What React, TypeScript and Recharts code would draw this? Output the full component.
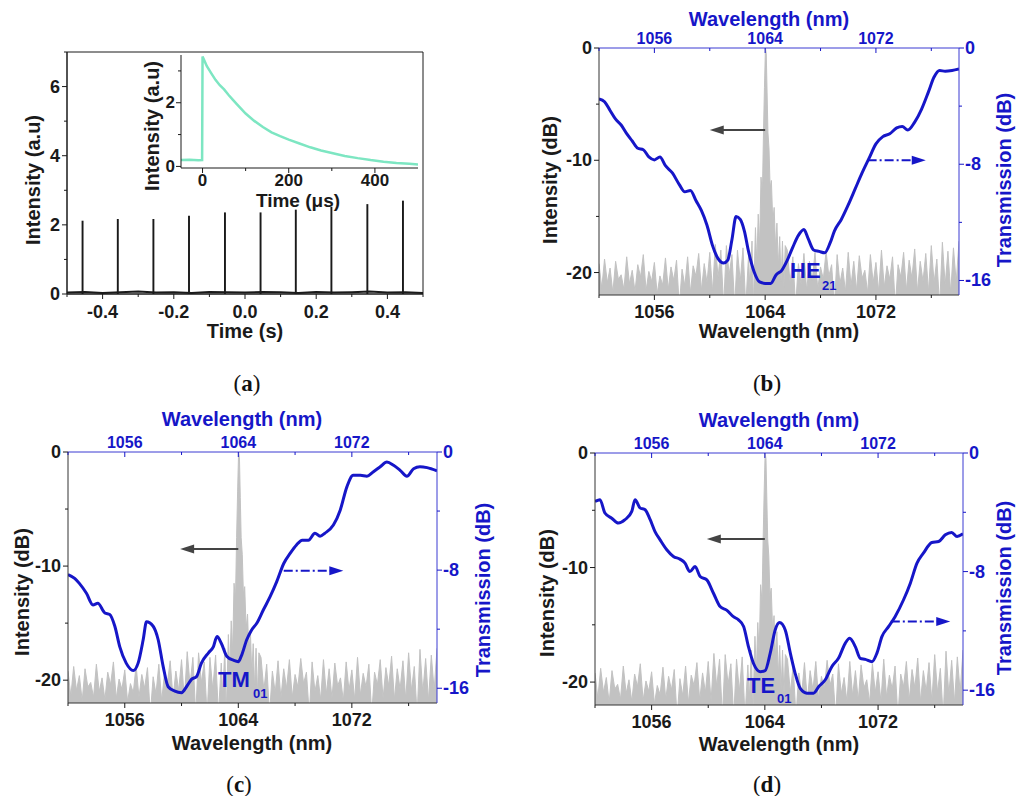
import React from 'react'
import { LineChart, ComposedChart, Line, Area, Bar, XAxis, YAxis, ReferenceLine } from 'recharts'

const W = 1016
const H = 796
const INK = '#1a1a1a'
const BLUE = '#1616c8'
const BLUE_AXIS = '#3b3bd2'
const GRAY = '#c2c2c2'
const MINT = '#7de6c2'
const SANS = '"Liberation Sans", Arial, sans-serif'
const SERIF = '"Liberation Serif", "Times New Roman", serif'

// (a) pulse train
const pulseTimes = [-0.456, -0.357, -0.257, -0.157, -0.056, 0.044, 0.143, 0.243, 0.344, 0.444]
const pulseHeights = [2.12, 2.17, 2.17, 2.26, 2.36, 2.36, 2.44, 2.52, 2.6, 2.7]
// baseline level every 0.05 s from -0.5 s
const baselineLevel = [0.04, 0.06, 0.03, 0.05, 0.07, 0.04, 0.05, 0.03, 0.06, 0.05, 0.04, 0.06, 0.05, 0.03, 0.06, 0.04, 0.05, 0.07, 0.04, 0.05, 0.03]

// (a) inset: single pulse decay
const decayTime = [-50, -30, -10, -1, 0, 5, 10, 20, 30, 40, 50, 60, 70, 80, 100, 120, 140, 160, 180, 200, 225, 250, 275, 300, 330, 360, 390, 420, 450, 480, 500]
const decayIntensity = [0.2, 0.21, 0.19, 0.2, 3.45, 3.3, 3.15, 2.93, 2.72, 2.55, 2.42, 2.25, 2.1, 1.95, 1.66, 1.43, 1.24, 1.07, 0.95, 0.84, 0.72, 0.6, 0.5, 0.42, 0.33, 0.26, 0.2, 0.15, 0.11, 0.08, 0.06]

// laser spectrum (dB), shared by (b)-(d)
// noise floor every 0.2 nm from 1052.0 to 1062.8
const noiseLeft = [
  -19.2, -21.4, -18.8, -20.9, -19.6, -21.8, -19.0, -20.6, -20.2, -21.5,
  -18.6, -21.0, -19.8, -21.7, -19.3, -20.4, -18.4, -21.6, -19.9, -20.8,
  -19.1, -21.9, -20.3, -21.1, -18.7, -21.5, -19.5, -20.7, -18.9, -23.0,
  -19.7, -21.2, -18.6, -21.8, -19.4, -20.3, -18.3, -21.6, -19.2, -20.9,
  -18.2, -21.7, -17.5, -20.4, -18.0, -23.0, -17.6, -20.2, -18.4, -23.0,
  -18.0, -20.8, -17.8, -23.0, -18.5,
]
const peakWl = [1062.9, 1063.05, 1063.15, 1063.3, 1063.4, 1063.5, 1063.6, 1063.7, 1063.8, 1063.88, 1063.95, 1064.02, 1064.08, 1064.14, 1064.2, 1064.28, 1064.36, 1064.45, 1064.55, 1064.65, 1064.75, 1064.85, 1064.95, 1065.05, 1065.15, 1065.25, 1065.35, 1065.45]
const peakDb = [-21.5, -17.2, -23.0, -16.0, -19.2, -14.8, -17.5, -11.5, -13.0, -7.5, -3.5, 0, -0.5, -4.0, -7.5, -9.0, -12.5, -11.8, -15.5, -14.2, -17.8, -15.6, -19.5, -16.8, -20.8, -17.2, -21.3, -17.6]
// noise floor every 0.2 nm from 1065.6 to 1078.0
const noiseRight = [
  -18.0, -20.9, -18.6, -23.0, -19.2, -21.1, -18.3, -21.6, -19.0, -20.7,
  -18.2, -21.5, -19.5, -20.6, -18.1, -20.3, -19.3, -23.0, -18.4, -21.0,
  -19.6, -21.7, -18.2, -21.2, -19.0, -21.6, -18.5, -20.5, -19.8, -21.8,
  -18.4, -20.9, -19.1, -21.7, -18.0, -21.3, -19.4, -20.6, -18.6, -23.0,
  -19.3, -20.4, -18.2, -21.6, -18.9, -20.5, -17.9, -21.7, -19.0, -20.8,
  -18.3, -21.7, -17.6, -20.9, -18.8, -23.0, -17.3, -21.1, -18.1, -21.8,
  -17.8, -20.9, -17.2,
]

// transmission (dB) [wavelength nm, dB]
const transHE21: [number, number][] = [
  [1052.0, -3.5], [1052.4, -3.7], [1052.8, -4.3], [1053.2, -4.9], [1053.6, -5.3], [1054.0, -5.9], [1054.4, -6.4], [1054.8, -6.9],
  [1055.2, -7.0], [1055.6, -7.5], [1056.0, -7.7], [1056.4, -7.5], [1056.8, -8.1], [1057.3, -8.6], [1057.8, -9.4], [1058.2, -9.9],
  [1058.6, -9.8], [1059.0, -10.5], [1059.4, -11.2], [1059.8, -12.2], [1060.2, -13.6], [1060.6, -14.5], [1061.0, -14.8], [1061.3, -14.6],
  [1061.6, -13.2], [1061.9, -11.6], [1062.2, -11.8], [1062.5, -12.6], [1062.8, -14.0], [1063.2, -15.4], [1063.6, -16.1], [1064.0, -16.2],
  [1064.4, -16.2], [1064.8, -15.6], [1065.2, -15.3], [1065.6, -14.6], [1066.0, -13.7], [1066.4, -12.9], [1066.8, -12.5], [1067.1, -13.1],
  [1067.5, -13.9], [1067.9, -14.0], [1068.3, -14.1], [1068.7, -13.4], [1069.0, -12.6], [1069.5, -11.8], [1070.0, -10.8], [1070.5, -9.7],
  [1071.0, -8.6], [1071.5, -7.6], [1072.0, -6.6], [1072.5, -6.1], [1073.0, -5.9], [1073.5, -5.5], [1073.9, -5.4], [1074.3, -5.65],
  [1074.8, -5.1], [1075.3, -4.2], [1075.8, -3.0], [1076.2, -2.0], [1076.6, -1.55], [1077.0, -1.6], [1077.5, -1.55], [1078.0, -1.45],
]
const transTM01: [number, number][] = [
  [1052.0, -8.3], [1052.47, -8.56], [1052.8, -8.9], [1053.3, -9.57], [1053.76, -10.36], [1054.1, -10.25], [1054.6, -10.9], [1054.94, -11.0],
  [1055.3, -11.8], [1055.65, -13.2], [1056.1, -14.3], [1056.6, -14.8], [1056.94, -14.3], [1057.3, -12.7], [1057.53, -11.5], [1058.0, -11.8],
  [1058.35, -12.7], [1058.7, -14.5], [1059.06, -15.9], [1059.53, -16.2], [1060.0, -16.3], [1060.35, -15.9], [1060.7, -15.4], [1061.06, -15.2],
  [1061.4, -14.3], [1061.9, -13.6], [1062.24, -13.2], [1062.5, -12.5], [1062.8, -12.95], [1063.2, -13.85], [1063.65, -14.1], [1064.0, -14.2],
  [1064.2, -13.85], [1064.6, -12.7], [1064.94, -12.05], [1065.3, -11.6], [1065.76, -10.7], [1066.24, -9.8], [1066.7, -8.8], [1067.2, -7.55],
  [1067.65, -6.87], [1068.1, -6.3], [1068.5, -5.97], [1068.94, -5.97], [1069.4, -5.5], [1069.76, -5.7], [1070.1, -5.5], [1070.7, -4.95],
  [1071.18, -3.94], [1071.65, -2.36], [1072.1, -1.58], [1072.6, -1.58], [1073.06, -1.64], [1073.5, -1.35], [1074.0, -1.0], [1074.47, -0.68],
  [1074.94, -0.9], [1075.4, -1.24], [1075.88, -1.64], [1076.35, -1.13], [1076.8, -1.0], [1077.3, -1.06], [1078.0, -1.28],
]
const transTE01: [number, number][] = [
  [1052.0, -3.27], [1052.35, -3.15], [1052.7, -4.05], [1053.18, -4.4], [1053.65, -4.73], [1054.12, -4.5], [1054.6, -3.94], [1054.83, -3.15],
  [1055.18, -3.7], [1055.54, -3.83], [1055.9, -4.5], [1056.24, -5.3], [1056.6, -5.86], [1057.07, -6.53], [1057.54, -6.98], [1058.0, -7.16],
  [1058.36, -7.43], [1058.7, -8.0], [1059.07, -7.66], [1059.43, -8.33], [1059.9, -8.56], [1060.37, -9.46], [1060.84, -10.36], [1061.3, -10.6],
  [1061.78, -11.04], [1062.14, -11.26], [1062.5, -11.7], [1062.84, -13.06], [1063.2, -14.2], [1063.67, -14.75], [1064.02, -14.68], [1064.38, -13.5],
  [1064.73, -11.94], [1065.04, -11.44], [1065.44, -11.94], [1065.8, -13.5], [1066.14, -14.86], [1066.5, -15.88], [1066.97, -16.2], [1067.44, -16.2],
  [1067.8, -15.77], [1068.27, -15.3], [1068.74, -14.4], [1069.2, -13.85], [1069.68, -12.84], [1069.99, -12.5], [1070.39, -13.06], [1070.74, -13.85],
  [1071.1, -13.92], [1071.57, -14.08], [1071.92, -13.5], [1072.27, -12.39], [1072.75, -11.7], [1073.2, -11.04], [1073.8, -9.9], [1074.28, -8.78],
  [1074.75, -7.43], [1075.2, -6.76], [1075.8, -6.04], [1076.28, -5.97], [1076.75, -5.52], [1077.2, -5.36], [1077.58, -5.63], [1078.0, -5.45],
]

// arrows: [from nm, to nm, left-axis dB]
const grayArrowB = [1064.0, 1060.0, -7.3]
const blueArrowB = [1071.4, 1075.6, -10.0]
const grayArrowC = [1064.0, 1059.9, -8.5]
const blueArrowC = [1067.2, 1071.4, -10.4]
const grayArrowD = [1064.0, 1059.9, -7.5]
const blueArrowD = [1072.9, 1077.1, -14.7]

const pulseRows = pulseTimes.map((t, i) => ({ t, h: pulseHeights[i] }))
const baselineRows = baselineLevel.map((h, i) => ({ t: -0.5 + 0.05 * i, h }))
const decayRows = decayTime.map((t, i) => ({ t, v: decayIntensity[i] }))
const spectrumRows = [
  ...noiseLeft.map((db, i) => ({ wl: 1052 + 0.2 * i, db })),
  ...peakWl.map((wl, i) => ({ wl, db: peakDb[i] })),
  ...noiseRight.map((db, i) => ({ wl: 1065.6 + 0.2 * i, db })),
]
const toRows = (pts: [number, number][]) => pts.map(([wl, t]) => ({ wl, t }))

const wlTicks = [1052, 1056, 1060, 1064, 1068, 1072, 1076]
const wlLabels = [1056, 1064, 1072]

type Side = 'left' | 'right' | 'top' | 'bottom'
type TickOpts = { color?: string; size?: number; fmt?: (v: number) => string; gap?: number }

const makeTick = (side: Side, labels: number[], { color = INK, size = 18, fmt = String, gap }: TickOpts = {}) =>
  (props: any) => {
    const { x, y, payload } = props
    const v = payload.value as number
    const major = labels.some((l) => Math.abs(l - v) < 1e-6)
    const len = major ? 5 : 3
    let ln = [x, y, x, y + len]
    let tx = x
    let ty = y + (gap ?? 17)
    let anchor = 'middle'
    if (side === 'left') {
      ln = [x - len, y, x, y]
      tx = x - (gap ?? 7)
      ty = y
      anchor = 'end'
    } else if (side === 'right') {
      ln = [x, y, x + len, y]
      tx = x + (gap ?? 6)
      ty = y
      anchor = 'start'
    } else if (side === 'top') {
      ty = y - (gap ?? 10)
    }
    return (
      <g>
        <line x1={ln[0]} y1={ln[1]} x2={ln[2]} y2={ln[3]} stroke={color} strokeWidth={1} />
        {major && (
          <text x={tx} y={ty} textAnchor={anchor} dominantBaseline="central" fill={color}
            fontFamily={SANS} fontWeight="bold" fontSize={size}>
            {fmt(v)}
          </text>
        )}
      </g>
    )
  }

const arrowShape = (color: string, dash?: string) => (p: any) => {
  const { x1, y1, x2, y2 } = p
  const dir = Math.sign(x2 - x1)
  const L = 14
  return (
    <g>
      <line x1={x1} y1={y1} x2={x2 - dir * L * 0.7} y2={y2} stroke={color} strokeWidth={2} strokeDasharray={dash} />
      <polygon points={`${x2},${y2} ${x2 - dir * L},${y2 - 4.5} ${x2 - dir * L},${y2 + 4.5}`} fill={color} />
    </g>
  )
}

// axes take 1px; margins place the plot box at page pixels
const AX = 1
const margins = (x0: number, y0: number, x1: number, y1: number) =>
  ({ top: y0 - AX, left: x0 - AX, right: W - x1 - AX, bottom: H - y1 - AX })

const layer: React.CSSProperties = { position: 'absolute', left: 0, top: 0 }

function PulsePanel() {
  return (
    <div style={layer}>
      <ComposedChart width={W} height={H} data={pulseRows} margin={margins(67, 52, 423, 294)}>
        <XAxis xAxisId="b" type="number" dataKey="t" domain={[-0.5, 0.5]} allowDataOverflow
          ticks={[-0.5, -0.4, -0.3, -0.2, -0.1, 0, 0.1, 0.2, 0.3, 0.4, 0.5]} interval={0}
          height={AX} tickSize={0} tickMargin={0} tickLine={false} axisLine={{ stroke: INK, strokeWidth: 1.5 }}
          tick={makeTick('bottom', [-0.4, -0.2, 0, 0.2, 0.4], { fmt: (v) => v.toFixed(1), gap: 18 })} />
        <XAxis xAxisId="t" orientation="top" type="number" domain={[-0.5, 0.5]} allowDataOverflow
          height={AX} tick={false} tickLine={false} axisLine={{ stroke: INK }} />
        <YAxis yAxisId="l" type="number" domain={[0, 7]} allowDataOverflow ticks={[0, 1, 2, 3, 4, 5, 6, 7]} interval={0}
          width={AX} tickSize={0} tickMargin={0} tickLine={false} axisLine={{ stroke: INK, strokeWidth: 1.5 }}
          tick={makeTick('left', [0, 2, 4, 6])} />
        <YAxis yAxisId="r" orientation="right" type="number" domain={[0, 7]} allowDataOverflow
          width={AX} tick={false} tickLine={false} axisLine={{ stroke: INK }} />
        <Line xAxisId="b" yAxisId="l" data={baselineRows} dataKey="h" type="linear" stroke={INK}
          strokeWidth={2} dot={false} isAnimationActive={false} />
        <Bar xAxisId="b" yAxisId="l" dataKey="h" barSize={3} fill={INK} isAnimationActive={false} />
      </ComposedChart>
    </div>
  )
}

function InsetPanel() {
  return (
    <div style={layer}>
      <LineChart width={W} height={H} data={decayRows} margin={margins(181, 56, 417, 168)}>
        <XAxis xAxisId="b" type="number" dataKey="t" domain={[-50, 500]} allowDataOverflow
          ticks={[0, 100, 200, 300, 400]} interval={0}
          height={AX} tickSize={0} tickMargin={0} tickLine={false} axisLine={{ stroke: INK }}
          tick={makeTick('bottom', [0, 200, 400], { size: 17, gap: 12 })} />
        <YAxis yAxisId="l" type="number" domain={[-0.05, 3.5]} allowDataOverflow ticks={[0, 1, 2, 3]} interval={0}
          width={AX} tickSize={0} tickMargin={0} tickLine={false} axisLine={{ stroke: INK }}
          tick={makeTick('left', [0, 2], { size: 17, gap: 6 })} />
        <Line xAxisId="b" yAxisId="l" dataKey="v" type="linear" stroke={MINT}
          strokeWidth={2.5} dot={false} isAnimationActive={false} />
      </LineChart>
    </div>
  )
}

type SpectrumProps = {
  box: [number, number, number, number]
  trans: [number, number][]
  grayArrow: number[]
  blueArrow: number[]
}

function SpectrumPanel({ box, trans, grayArrow, blueArrow }: SpectrumProps) {
  return (
    <div style={layer}>
      <ComposedChart width={W} height={H} margin={margins(...box)}>
        <XAxis xAxisId="b" type="number" dataKey="wl" domain={[1052, 1078]} allowDataOverflow
          ticks={wlTicks} interval={0} height={AX} tickSize={0} tickMargin={0} tickLine={false}
          axisLine={{ stroke: '#333' }} tick={makeTick('bottom', wlLabels)} />
        <XAxis xAxisId="t" orientation="top" type="number" dataKey="wl" domain={[1052, 1078]} allowDataOverflow
          ticks={wlTicks} interval={0} height={AX} tickSize={0} tickMargin={0} tickLine={false}
          axisLine={{ stroke: BLUE_AXIS }} tick={makeTick('top', wlLabels, { color: BLUE, size: 16 })} />
        <YAxis yAxisId="l" type="number" domain={[-22, 0]} allowDataOverflow ticks={[-20, -15, -10, -5, 0]} interval={0}
          width={AX} tickSize={0} tickMargin={0} tickLine={false} axisLine={{ stroke: '#333' }}
          tick={makeTick('left', [-20, -10, 0])} />
        <YAxis yAxisId="r" orientation="right" type="number" domain={[-17, 0]} allowDataOverflow
          ticks={[-16, -12, -8, -4, 0]} interval={0} width={AX} tickSize={0} tickMargin={0} tickLine={false}
          axisLine={{ stroke: BLUE_AXIS }} tick={makeTick('right', [-16, -8, 0], { color: BLUE })} />
        <Area xAxisId="b" yAxisId="l" data={spectrumRows} dataKey="db" type="linear" baseValue={-22}
          stroke={GRAY} strokeWidth={1} fill={GRAY} fillOpacity={1} dot={false} isAnimationActive={false} />
        <Line xAxisId="b" yAxisId="r" data={toRows(trans)} dataKey="t" type="monotone" stroke={BLUE}
          strokeWidth={3} dot={false} isAnimationActive={false} />
        <ReferenceLine xAxisId="b" yAxisId="l" ifOverflow="visible"
          segment={[{ x: grayArrow[0], y: grayArrow[2] }, { x: grayArrow[1], y: grayArrow[2] }]}
          shape={arrowShape('#444')} />
        <ReferenceLine xAxisId="b" yAxisId="l" ifOverflow="visible"
          segment={[{ x: blueArrow[0], y: blueArrow[2] }, { x: blueArrow[1], y: blueArrow[2] }]}
          shape={arrowShape(BLUE, '9 3 2 3')} />
      </ComposedChart>
    </div>
  )
}

const Title = ({ x, y, text, rot = false, color = INK, size = 20 }: any) => (
  <text transform={`translate(${x},${y})${rot ? ' rotate(-90)' : ''}`} textAnchor="middle" dominantBaseline="central"
    fill={color} fontFamily={SANS} fontWeight="bold" fontSize={size}>
    {text}
  </text>
)

const Caption = ({ x, y, letter }: any) => (
  <text x={x} y={y} textAnchor="middle" dominantBaseline="central" fontFamily={SERIF} fontSize={23} fill="#111">
    (<tspan fontWeight="bold">{letter}</tspan>)
  </text>
)

const Mode = ({ x, y, main, sub, sx, sy }: any) => (
  <g fill={BLUE} fontFamily={SANS} fontWeight="bold">
    <text x={x} y={y} fontSize={22}>{main}</text>
    <text x={sx} y={sy} fontSize={13}>{sub}</text>
  </g>
)

export default function App() {
  return (
    <div style={{ position: 'absolute', left: 0, top: 0, width: W, height: H, background: '#fff', overflow: 'hidden' }}>
      <PulsePanel />
      <InsetPanel />
      <SpectrumPanel box={[599, 48, 959, 295]} trans={transHE21} grayArrow={grayArrowB} blueArrow={blueArrowB} />
      <SpectrumPanel box={[68, 452, 437, 703]} trans={transTM01} grayArrow={grayArrowC} blueArrow={blueArrowC} />
      <SpectrumPanel box={[595, 453, 963, 705]} trans={transTE01} grayArrow={grayArrowD} blueArrow={blueArrowD} />
      <svg width={W} height={H} style={{ ...layer, pointerEvents: 'none' }}>
        <Title x={33} y={180} text="Intensity (a.u)" rot />
        <Title x={245} y={331} text="Time (s)" />
        <Title x={152} y={126} text="Intensity (a.u)" rot />
        <Title x={298} y={200} text="Time (μs)" size={19} />

        <Title x={550} y={180} text="Intensity (dB)" rot />
        <Title x={1004} y={180} text="Transmission (dB)" rot color={BLUE} />
        <Title x={769} y={19} text="Wavelength (nm)" color={BLUE} />
        <Title x={779} y={331} text="Wavelength (nm)" />

        <Title x={22} y={592} text="Intensity (dB)" rot />
        <Title x={483} y={590} text="Transmission (dB)" rot color={BLUE} />
        <Title x={242} y={419} text="Wavelength (nm)" color={BLUE} />
        <Title x={252} y={743} text="Wavelength (nm)" />

        <Title x={547} y={593} text="Intensity (dB)" rot />
        <Title x={1004} y={588} text="Transmission (dB)" rot color={BLUE} />
        <Title x={779} y={420} text="Wavelength (nm)" color={BLUE} />
        <Title x={779} y={744} text="Wavelength (nm)" />

        <Mode x={790} y={278} main="HE" sub="21" sx={822} sy={290} />
        <Mode x={218} y={687} main="TM" sub="01" sx={253} sy={698} />
        <Mode x={747} y={693} main="TE" sub="01" sx={777} sy={703} />

        <Caption x={247} y={383} letter="a" />
        <Caption x={767} y={383} letter="b" />
        <Caption x={239} y={784} letter="c" />
        <Caption x={767} y={784} letter="d" />
      </svg>
    </div>
  )
}
